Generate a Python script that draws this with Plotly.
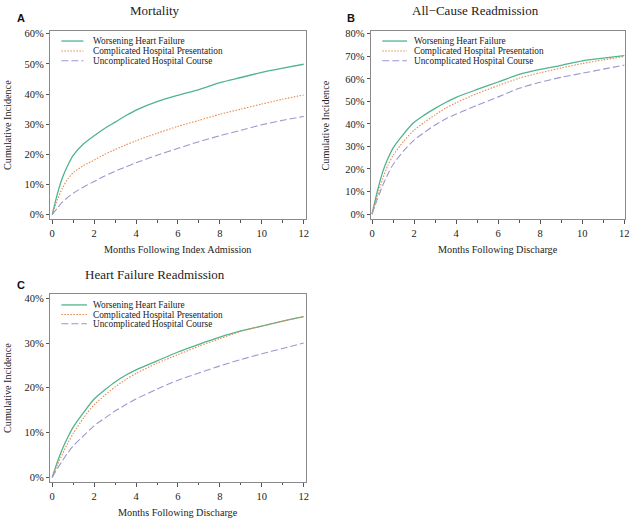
import plotly.graph_objects as go

W, H = 634, 519

months = [0, 0.25, 0.5, 0.75, 1, 1.5, 2, 2.5, 3, 3.5, 4, 5, 6, 7, 8, 9, 10, 11, 12]
series_names = ["Worsening Heart Failure", "Complicated Hospital Presentation", "Uncomplicated Hospital Course"]

mort_whf = [0, 7, 12.5, 16.5, 19.7, 23.5, 26.2, 28.6, 30.7, 32.8, 34.7, 37.5, 39.6, 41.5, 43.8, 45.5, 47.2, 48.6, 49.9]
mort_chp = [0, 5, 9, 11.9, 13.9, 16.3, 18.1, 20, 21.6, 23.1, 24.5, 27, 29.3, 31.3, 33.3, 35, 36.7, 38.3, 39.7]
mort_uhc = [0, 2.2, 4.3, 5.8, 7.1, 9.2, 11, 12.8, 14.4, 15.8, 17.2, 19.7, 22, 24.2, 26.2, 28, 29.8, 31.3, 32.6]

acr_whf = [0, 10, 18.5, 24.5, 29.3, 35.5, 40.7, 44, 46.9, 49.5, 51.8, 55.3, 58.6, 62, 64.2, 66, 68, 69.2, 70.3]
acr_chp = [0, 8, 15.5, 21.5, 26, 32.3, 37.2, 40.8, 44, 47, 49.4, 53.5, 57, 60.3, 62.7, 64.8, 66.8, 68.4, 69.9]
acr_uhc = [0, 6.5, 12.5, 17.7, 22, 28, 32.8, 36.3, 39.5, 42.2, 44.4, 48.3, 52, 55.8, 58.5, 60.7, 62.5, 64.3, 66.1]

hfr_whf = [0, 3.5, 6.5, 9, 11.2, 14.5, 17.5, 19.5, 21.3, 22.8, 24, 26, 28, 29.7, 31.3, 32.7, 33.8, 34.9, 35.9]
hfr_chp = [0, 2.8, 5.3, 7.7, 9.8, 13.3, 16.2, 18.3, 20.2, 21.8, 23.2, 25.5, 27.4, 29.3, 31, 32.6, 33.8, 34.9, 35.9]
hfr_uhc = [0, 2, 3.8, 5.5, 7, 9.3, 11.5, 13.2, 14.8, 16.2, 17.5, 19.7, 21.7, 23.3, 24.9, 26.3, 27.6, 28.8, 30]

panel_titles = ["Mortality", "All\u2212Cause Readmission", "Heart Failure Readmission"]
panel_letters = ["A", "B", "C"]
x_titles = ["Months Following Index Admission", "Months Following Discharge", "Months Following Discharge"]
y_title = "Cumulative Incidence"
x_ticks = [0, 2, 4, 6, 8, 10, 12]
y_ticks = [list(range(0, 61, 10)), list(range(0, 81, 10)), list(range(0, 41, 10))]

colors = ["#4fb48f", "#e8874d", "#9d97cf"]
dashes = ["solid", "1.5px,1.5px", "7px,3px"]
widths = [1.3, 1.1, 1.1]

data = [[mort_whf, mort_chp, mort_uhc], [acr_whf, acr_chp, acr_uhc], [hfr_whf, hfr_chp, hfr_uhc]]

# panel pixel boxes: left, right, top, bottom ; axis ranges
boxes = [(49.3, 307.0, 28.3, 217.7), (372.5, 629.3, 28.3, 217.7), (49.3, 307.0, 293.3, 482.7)]
xranges = [[-0.11, 12.09], [-0.07, 12.05], [-0.11, 12.09]]
yranges = [[-1.45, 60.9], [-2.2, 81.2], [-1.04, 40.95]]
legend_line = [(0.045, 0.131), (0.046, 0.143), (0.045, 0.145)]
legend_rows = [[0.947, 0.894, 0.842], [0.947, 0.894, 0.842], [0.942, 0.891, 0.842]]
title_pos = [(155, 8), (478, 8), (155, 273.5)]
letter_pos = [(20, 15), (353, 15), (20, 284)]
xtitle_pos = [(178, 248), (501, 248), (178, 513)]
ytitle_pos = [(6, 123), (327, 123), (6, 388)]

FONT = "Liberation Serif"
fig = go.Figure()
annotations = []
shapes = []
axes_layout = {}

for p in range(3):
    xa = "x" if p == 0 else f"x{p+1}"
    ya = "y" if p == 0 else f"y{p+1}"
    for s in range(3):
        fig.add_trace(go.Scatter(
            x=months, y=data[p][s], mode="lines", name=series_names[s],
            line=dict(color=colors[s], dash=dashes[s], width=widths[s], shape="spline", smoothing=0.7),
            xaxis=xa, yaxis=ya, showlegend=False, hoverinfo="skip"))
    L, R, T, B = boxes[p]
    axkw = dict(showline=True, mirror=True, linecolor="#8a8a8a", linewidth=1,
                showgrid=False, zeroline=False, ticks="outside", tickcolor="#555",
                tickfont=dict(family=FONT, size=10.5, color="#222"))
    axes_layout["xaxis" if p == 0 else f"xaxis{p+1}"] = dict(
        domain=[L / W, R / W], range=xranges[p], tickvals=x_ticks,
        ticktext=[str(v) for v in x_ticks], ticklen=4,
        minor=dict(dtick=1, tick0=0, ticks="outside", ticklen=2.5, tickcolor="#555"),
        anchor=ya, **axkw)
    axes_layout["yaxis" if p == 0 else f"yaxis{p+1}"] = dict(
        domain=[1 - B / H, 1 - T / H], range=yranges[p], tickvals=y_ticks[p],
        ticktext=[f"{v}%" for v in y_ticks[p]],
        ticklen=3, anchor=xa, **axkw)

    # legend
    x0, x1 = legend_line[p]
    for s in range(3):
        yy = legend_rows[p][s]
        shapes.append(dict(type="line", xref=f"{xa} domain", yref=f"{ya} domain",
                           x0=x0, x1=x1, y0=yy, y1=yy,
                           line=dict(color=colors[s], dash=dashes[s], width=widths[s])))
        annotations.append(dict(xref=f"{xa} domain", yref=f"{ya} domain", x=0.162, y=yy,
                                text=series_names[s], showarrow=False, xanchor="left",
                                yanchor="middle", font=dict(family=FONT, size=9.3, color="#222")))
    tx, ty = title_pos[p]
    annotations.append(dict(xref="paper", yref="paper", x=tx / W, y=1 - ty / H, text=panel_titles[p],
                            showarrow=False, xanchor="center", yanchor="middle",
                            font=dict(family=FONT, size=13, color="#222")))
    lx, ly = letter_pos[p]
    annotations.append(dict(xref="paper", yref="paper", x=lx / W, y=1 - ly / H, text="<b>" + panel_letters[p] + "</b>",
                            showarrow=False, xanchor="center", yanchor="middle",
                            font=dict(family="Liberation Sans", size=11, color="#111")))
    xx, xy = xtitle_pos[p]
    annotations.append(dict(xref="paper", yref="paper", x=xx / W, y=1 - xy / H, text=x_titles[p],
                            showarrow=False, xanchor="center", yanchor="middle",
                            font=dict(family=FONT, size=10.2, color="#222")))
    yx, yy2 = ytitle_pos[p]
    annotations.append(dict(xref="paper", yref="paper", x=yx / W, y=1 - yy2 / H, text=y_title,
                            showarrow=False, xanchor="center", yanchor="middle", textangle=-90,
                            font=dict(family=FONT, size=10.2, color="#222")))

fig.update_layout(width=W, height=H, margin=dict(l=0, r=0, t=0, b=0),
                  font=dict(family=FONT, size=10.5, color="#222"),
                  paper_bgcolor="white", plot_bgcolor="white",
                  annotations=annotations, shapes=shapes, showlegend=False, **axes_layout)

fig.write_html("out.html", config={"displayModeBar": False},
               post_script="document.body.style.margin='0px';document.body.style.padding='0px';"
                           "document.body.style.overflow='hidden';"
                           "document.documentElement.style.overflow='hidden';")
